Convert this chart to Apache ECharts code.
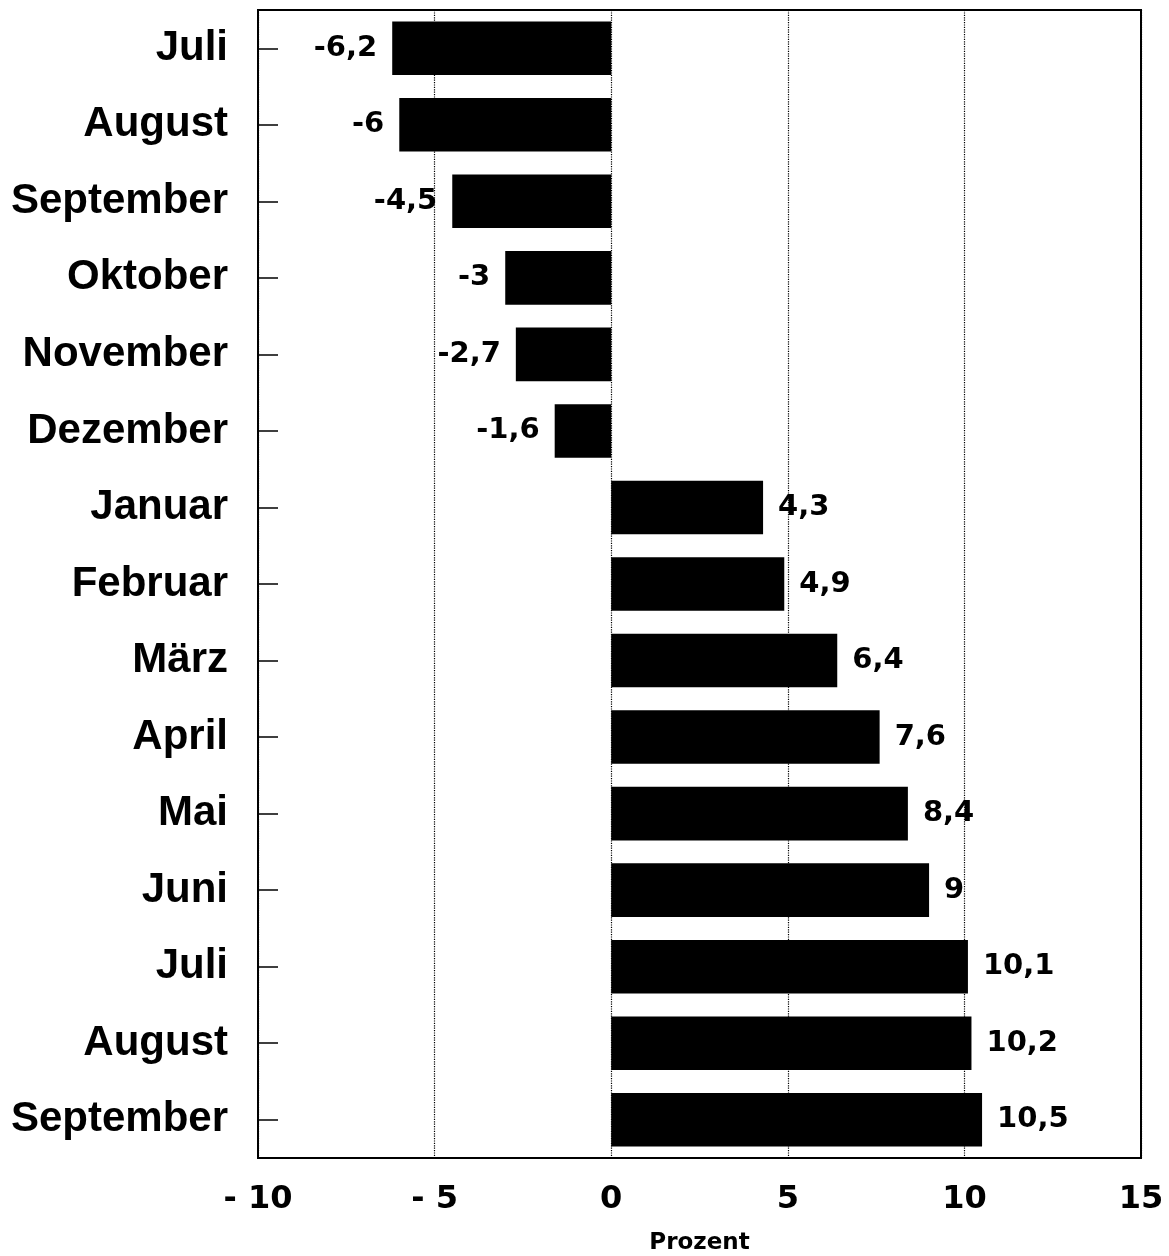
<!DOCTYPE html>
<html>
<head>
<meta charset="utf-8">
<script src="https://cdn.jsdelivr.net/npm/echarts@6/dist/echarts.min.js"></script>
<style>
  html, body { margin: 0; padding: 0; background: #fff; }
  #chart { width: 1169px; height: 1256px; }
</style>
</head>
<body>
<div id="chart"></div>
<script>
// Monate von oben nach unten
const months = ['Juli', 'August', 'September', 'Oktober', 'November', 'Dezember',
    'Januar', 'Februar', 'März', 'April', 'Mai', 'Juni', 'Juli', 'August', 'September'];
const values = [-6.2, -6, -4.5, -3, -2.7, -1.6, 4.3, 4.9, 6.4, 7.6, 8.4, 9, 10.1, 10.2, 10.5];
const xMin = -10;
const xMax = 15;
const xStep = 5;

let chart = echarts.init(document.getElementById('chart'));

let barData = values.map(v => ({
    value: v,
    label: {position: v < 0 ? 'left' : 'right'}
}));

let option = {
    animation: false,
    backgroundColor: '#fff',
    grid: {
        left: 258, right: 28, top: 10, bottom: 98,
        outerBoundsMode: 'none',
        containLabel: false,
        show: true,
        borderColor: '#000',
        borderWidth: 2
    },
    xAxis: {
        type: 'value',
        min: xMin,
        max: xMax,
        interval: xStep,
        name: 'Prozent',
        nameLocation: 'middle',
        nameGap: 74,
        nameTextStyle: {
            fontFamily: 'DejaVu Sans',
            fontWeight: 'bold',
            fontSize: 23,
            color: '#000'
        },
        axisLine: {show: true, lineStyle: {color: '#000', width: 2}},
        axisTick: {show: false},
        axisLabel: {
            margin: 26,
            fontFamily: 'DejaVu Sans',
            fontWeight: 'bold',
            fontSize: 32,
            color: '#000',
            formatter: v => v < 0 ? '- ' + Math.abs(v) : String(v)
        },
        splitLine: {
            show: true,
            lineStyle: {color: '#000', type: 'dotted', width: 1.2}
        }
    },
    yAxis: {
        type: 'category',
        data: months,
        inverse: true,
        axisLine: {show: true, onZero: false, lineStyle: {color: '#000', width: 2}},
        axisTick: {
            show: true,
            inside: true,
            alignWithLabel: true,
            length: 20,
            lineStyle: {color: '#000', width: 1.5}
        },
        axisLabel: {
            margin: 30,
            fontFamily: 'Liberation Sans',
            fontWeight: 'bold',
            fontSize: 42,
            color: '#000'
        }
    },
    series: [{
        type: 'bar',
        data: barData,
        barCategoryGap: '30%',
        itemStyle: {color: '#000'},
        label: {
            show: true,
            distance: 15,
            fontFamily: 'DejaVu Sans',
            fontWeight: 'bold',
            fontSize: 29,
            color: '#000',
            formatter: p => String(p.value).replace('.', ',')
        }
    }]
};

chart.setOption(option);
</script>
</body>
</html>
